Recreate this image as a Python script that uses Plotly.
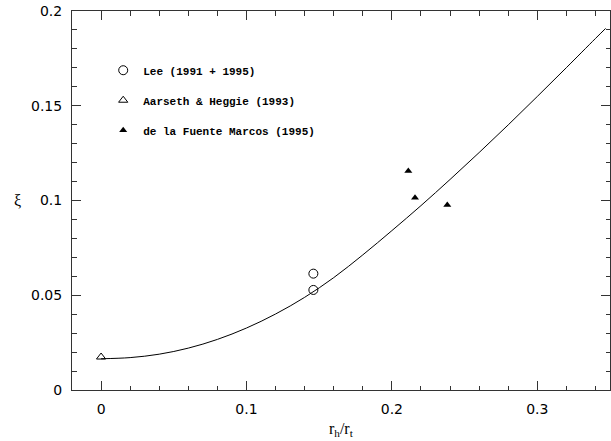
import plotly.graph_objects as go

# Model curve
curve_x = [0.0, 0.02, 0.04, 0.06, 0.08, 0.10, 0.12, 0.14, 0.16, 0.18, 0.20,
           0.22, 0.24, 0.26, 0.28, 0.30, 0.32, 0.34, 0.347]
curve_y = [0.0165, 0.0171, 0.0189, 0.0221, 0.0267, 0.0327, 0.0401, 0.0489,
           0.0593, 0.0713, 0.0841, 0.0973, 0.1111, 0.1253, 0.1399, 0.1549,
           0.1701, 0.1855, 0.1908]

lee_x = [0.146, 0.146]
lee_y = [0.0614, 0.0528]

ah_x = [0.0]
ah_y = [0.0174]

dlfm_x = [0.2113, 0.2159, 0.2381]
dlfm_y = [0.1156, 0.1015, 0.0976]

names = ["Lee (1991 + 1995)", "Aarseth &amp; Heggie (1993)", "de la Fuente Marcos (1995)"]

fig = go.Figure()
fig.add_trace(go.Scatter(x=curve_x, y=curve_y, mode="lines", line=dict(color="black", width=1, shape="spline"),
                         showlegend=False, hoverinfo="skip"))
fig.add_trace(go.Scatter(x=lee_x, y=lee_y, mode="markers", name=names[0], legendgroup="a",
                         marker=dict(symbol="circle-open", size=9, color="black", line=dict(width=1))))
fig.add_trace(go.Scatter(x=ah_x, y=ah_y, mode="markers", name=names[1], legendgroup="b",
                         marker=dict(symbol="triangle-up-open", size=8, color="black", line=dict(width=1))))
fig.add_trace(go.Scatter(x=dlfm_x, y=dlfm_y, mode="markers", name=names[2], legendgroup="c",
                         marker=dict(symbol="triangle-up", size=7, color="black")))

axis_common = dict(
    showgrid=False, zeroline=False, showline=True, linecolor="#333", linewidth=1,
    mirror="allticks", ticks="inside", ticklen=9, tickwidth=1, tickcolor="#333",
    tickfont=dict(family="DejaVu Sans", size=14, color="black"),
)

fig.update_layout(
    width=611, height=441,
    margin=dict(l=72, r=1, t=11, b=51),
    paper_bgcolor="white", plot_bgcolor="white",
    xaxis=dict(range=[-0.02, 0.35], tickvals=[0, 0.1, 0.2, 0.3], ticktext=["0", "0.1", "0.2", "0.3"],
               minor=dict(dtick=0.02, tick0=0, ticks="inside", ticklen=4.5, tickcolor="#333"),
               ticklabelstandoff=6, **axis_common),
    yaxis=dict(range=[0, 0.2], tickvals=[0, 0.05, 0.1, 0.15, 0.2], ticktext=["0", "0.05", "0.1", "0.15", "0.2"],
               minor=dict(dtick=0.01, tick0=0, ticks="inside", ticklen=4.5, tickcolor="#333"),
               ticklabelstandoff=6, **axis_common),
    legend=dict(x=0.058, y=0.882, xanchor="left", yanchor="top", bgcolor="rgba(0,0,0,0)",
                font=dict(family="Liberation Mono", size=11, color="black", weight="bold"),
                tracegroupgap=11, itemwidth=30),
    showlegend=True,
    annotations=[
        dict(text="r<sub>h</sub>/r<sub>t</sub>", xref="paper", yref="paper", x=0.5, y=0, yshift=-39,
             xanchor="center", yanchor="middle", showarrow=False,
             font=dict(family="Liberation Serif", size=16, color="black")),
        dict(text="ξ", xref="paper", yref="y", x=0, xshift=-55, y=0.1,
             xanchor="center", yanchor="middle", showarrow=False,
             font=dict(family="Liberation Serif", size=16, color="black")),
    ],
)

fig.write_html("out.html")
